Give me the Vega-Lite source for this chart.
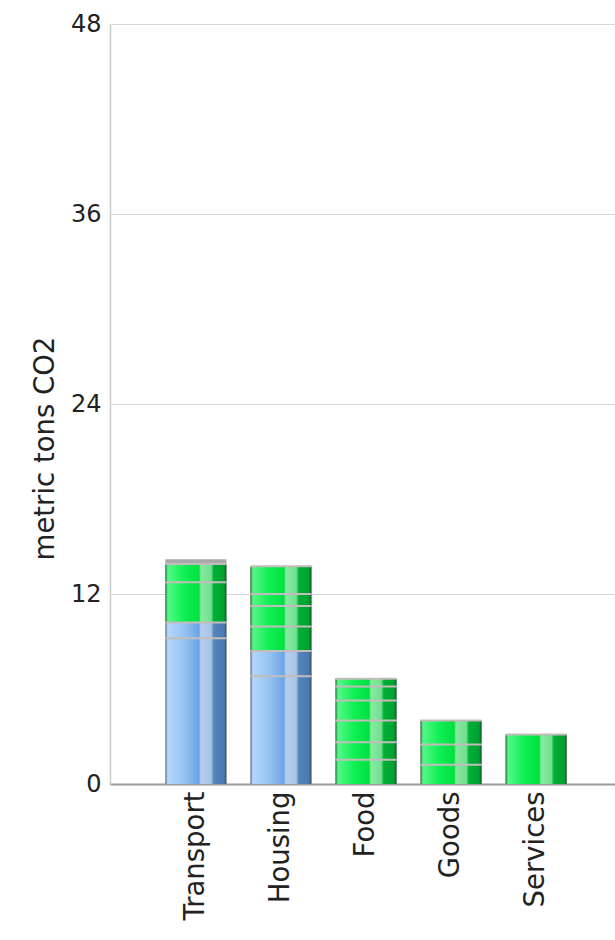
{
  "$schema": "https://vega.github.io/schema/vega-lite/v6.json",
  "width": 512,
  "height": 760,
  "autosize": "none",
  "padding": {"left": 110, "top": 24, "right": 0, "bottom": 156},
  "background": "white",
  "config": {
    "view": {"stroke": null},
    "font": "DejaVu Sans"
  },
  "data": {
    "values": [
      {"category": "Transport", "type": "blue", "order": 1, "value": 9.2},
      {"category": "Transport", "type": "blue", "order": 2, "value": 1.0},
      {"category": "Transport", "type": "green", "order": 3, "value": 2.55},
      {"category": "Transport", "type": "green", "order": 4, "value": 1.15},
      {"category": "Transport", "type": "gray", "order": 5, "value": 0.3},
      {"category": "Housing", "type": "blue", "order": 1, "value": 6.8},
      {"category": "Housing", "type": "blue", "order": 2, "value": 1.6},
      {"category": "Housing", "type": "green", "order": 3, "value": 1.55},
      {"category": "Housing", "type": "green", "order": 4, "value": 1.3},
      {"category": "Housing", "type": "green", "order": 5, "value": 0.75},
      {"category": "Housing", "type": "green", "order": 6, "value": 1.75},
      {"category": "Food", "type": "green", "order": 1, "value": 1.53},
      {"category": "Food", "type": "green", "order": 2, "value": 1.11},
      {"category": "Food", "type": "green", "order": 3, "value": 1.37},
      {"category": "Food", "type": "green", "order": 4, "value": 1.27},
      {"category": "Food", "type": "green", "order": 5, "value": 0.88},
      {"category": "Food", "type": "green", "order": 6, "value": 0.49},
      {"category": "Goods", "type": "green", "order": 1, "value": 1.21},
      {"category": "Goods", "type": "green", "order": 2, "value": 1.29},
      {"category": "Goods", "type": "green", "order": 3, "value": 1.51},
      {"category": "Services", "type": "green", "order": 1, "value": 3.13}
    ]
  },
  "transform": [
    {"stack": "value", "groupby": ["category"], "sort": [{"field": "order", "order": "ascending"}], "as": ["y0", "y1"]}
  ],
  "encoding": {
    "x": {
      "field": "category",
      "type": "nominal",
      "sort": ["Transport", "Housing", "Food", "Goods", "Services"],
      "scale": {"paddingInner": 0.28, "paddingOuter": 0.65},
      "axis": {
        "title": null,
        "labelAngle": -90,
        "labelAlign": "right",
        "labelBaseline": "middle",
        "labelFontSize": 27.5,
        "labelColor": "#222222",
        "labelPadding": 7,
        "ticks": false,
        "domainColor": "#9a9a9a",
        "domainWidth": 2,
        "grid": false
      }
    }
  },
  "layer": [
    {
      "transform": [{"filter": "datum.type === 'blue'"}],
      "mark": {
        "type": "bar",
        "color": {
          "gradient": "linear", "x1": 0, "x2": 1, "y1": 0, "y2": 0,
          "stops": [
            {"offset": 0, "color": "#5a6e85"},
            {"offset": 0.04, "color": "#b4d6fa"},
            {"offset": 0.3, "color": "#98c4f2"},
            {"offset": 0.55, "color": "#6aa4e6"},
            {"offset": 0.58, "color": "#b4cfee"},
            {"offset": 0.75, "color": "#a8c4e6"},
            {"offset": 0.79, "color": "#5585bd"},
            {"offset": 0.96, "color": "#4a78b0"},
            {"offset": 1, "color": "#3a4a5a"}
          ]
        }
      },
      "encoding": {
        "y": {
          "field": "y0",
          "type": "quantitative",
          "scale": {"domain": [0, 48], "nice": false},
          "axis": {
            "values": [0, 12, 24, 36, 48],
            "title": "metric tons CO2",
            "titleFontSize": 27.5,
            "titleFontWeight": "normal",
            "titleColor": "#222222",
            "titleAngle": -90,
            "titleBaseline": "middle",
            "titleAlign": "center",
            "titleX": -65,
            "titleY": 424,
            "labelFontSize": 24,
            "labelColor": "#222222",
            "labelPadding": 9,
            "ticks": false,
            "domainColor": "#cccccc",
            "domainWidth": 1.5,
            "gridColor": "#d8d8d8",
            "gridWidth": 1.2
          }
        },
        "y2": {"field": "y1"}
      }
    },
    {
      "transform": [{"filter": "datum.type === 'green'"}],
      "mark": {
        "type": "bar",
        "color": {
          "gradient": "linear", "x1": 0, "x2": 1, "y1": 0, "y2": 0,
          "stops": [
            {"offset": 0, "color": "#2a5a35"},
            {"offset": 0.04, "color": "#55f888"},
            {"offset": 0.3, "color": "#11f055"},
            {"offset": 0.55, "color": "#00e040"},
            {"offset": 0.58, "color": "#88eaa0"},
            {"offset": 0.75, "color": "#70e090"},
            {"offset": 0.79, "color": "#00b035"},
            {"offset": 0.96, "color": "#00a030"},
            {"offset": 1, "color": "#1a4a25"}
          ]
        }
      },
      "encoding": {
        "y": {"field": "y0", "type": "quantitative"},
        "y2": {"field": "y1"}
      }
    },
    {
      "transform": [{"filter": "datum.type === 'gray'"}],
      "mark": {"type": "bar", "color": "#a9a9a9"},
      "encoding": {
        "y": {"field": "y0", "type": "quantitative"},
        "y2": {"field": "y1"}
      }
    },
    {
      "transform": [{"filter": "datum.type !== 'gray'"}],
      "mark": {"type": "tick", "color": "#c4bcbc", "thickness": 2, "size": 61, "opacity": 1},
      "encoding": {
        "y": {"field": "y1", "type": "quantitative"}
      }
    }
  ]
}
